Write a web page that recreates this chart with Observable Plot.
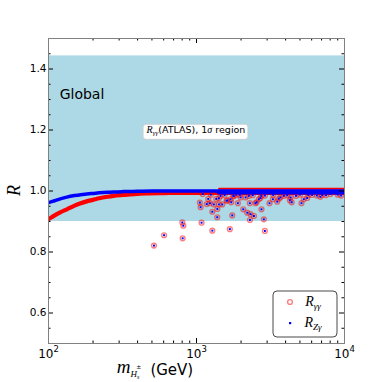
<!DOCTYPE html>
<html><head><meta charset="utf-8">
<script src="https://cdn.jsdelivr.net/npm/d3@7"></script>
<script src="https://cdn.jsdelivr.net/npm/@observablehq/plot@0.6"></script>
<style>
html,body{margin:0;padding:0;background:#fff;}
#chart{width:382px;height:382px;}
svg{display:block;}
</style></head><body><div id="chart"></div>
<script>
// ---------------- data ----------------
const massRedMain = [100,105,110,120,133,150,165,181,200,220,250,275,320,380,460,600,800,1000,1400,2000,4000,10000];
const rGammaMain  = [0.908,0.914,0.920,0.930,0.940,0.952,0.960,0.966,0.971,0.976,0.981,0.984,0.987,0.990,0.992,0.993,0.994,0.994,0.994,0.994,0.994,0.994];
const massBlueMain = [100,105,110,120,133,150,165,181,200,220,250,275,320,400,500,700,1000,2000,5000,10000];
const rZgMain      = [0.962,0.965,0.968,0.974,0.980,0.985,0.988,0.990,0.992,0.994,0.996,0.997,0.998,0.999,1.000,1.000,1.000,1.000,1.000,1.000];
const massRedHigh  = [1420,2000,3000,5000,10000];
const rGammaHigh   = [1.007,1.007,1.007,1.007,1.007];
const massBlueHigh = [1420,2000,3000,5000,10000];
const rZgHigh      = [0.996,0.996,0.996,0.996,0.996];
// scattered parameter points (both ratios nearly equal)
const scatterMass = [516,604,802,815,806,1082,1279,1680,2851,2897,1381,1744,2296,2445,2318,2748,2070,2203,
  1054,1066,1201,1232,1279,1310,1360,1416,1455,1493,1596,1698,1771,1903,1963,2259,1416,1717,1787,2291,2504,2546,
  2637,2705,2737,3113,3280,3510,3600,3690,3890,4270,4320,4400,5120,5310,5600,5700,6040,6870,7060,8040,2145,1985,
  1172,1383,1614,1100,1250,1550,1850,2400,2900,3300,4100,4700,5000,6500,7500,9000,9500];
const scatterR    = [0.821,0.855,0.897,0.886,0.845,0.896,0.870,0.875,0.907,0.869,0.914,0.920,0.905,0.918,0.924,0.940,0.940,0.929,
  0.962,0.947,0.974,0.960,0.932,0.956,0.974,0.976,0.984,0.956,0.968,0.973,0.984,0.960,0.987,0.984,0.956,0.963,0.983,0.960,0.960,0.963,
  0.973,0.977,0.984,0.960,0.973,0.965,0.975,0.979,0.984,0.970,0.979,0.963,0.960,0.973,0.977,0.987,0.987,0.981,0.987,0.990,0.979,0.979,
  0.957,0.941,0.969,0.990,0.988,0.986,0.988,0.986,0.985,0.987,0.986,0.984,0.988,0.985,0.986,0.988,0.985];
const bandX = [100, 10000];
const bandY = [0.9, 1.443];
const xMajor = [100, 1000, 10000];
const xTickLabels = ["10²", "10³", "10⁴"];
const xMinor = [200,300,400,500,600,700,800,900,2000,3000,4000,5000,6000,7000,8000,9000];
const yMajor = [0.6, 0.8, 1.0, 1.2, 1.4];
const yMinor = [0.55,0.65,0.7,0.75,0.85,0.9,0.95,1.05,1.1,1.15,1.25,1.3,1.35,1.45];
const globalLabel = [{x: 119, y: 1.315, text: "Global"}];
const annotation = {x: 1000, y: 1.2};

// ---------------- layout ----------------
const W = 382, H = 382, ML = 48, MR = 38, MT = 38, MB = 39;
const FW = W - ML - MR, FH = H - MT - MB;
const RED = "#ff0000", BLUE = "#0000ff";

const mainRed = massRedMain.map((m, i) => ({m, r: rGammaMain[i]}));
const mainBlue = massBlueMain.map((m, i) => ({m, r: rZgMain[i]}));
const highRed = massRedHigh.map((m, i) => ({m, r: rGammaHigh[i]}));
const highBlue = massBlueHigh.map((m, i) => ({m, r: rZgHigh[i]}));
const scatter = scatterMass.map((m, i) => ({m, r: scatterR[i]}));

const plot = Plot.plot({
  width: W, height: H,
  marginLeft: ML, marginRight: MR, marginTop: MT, marginBottom: MB,
  style: {fontFamily: "DejaVu Sans", background: "white", color: "black", overflow: "visible"},
  x: {type: "log", domain: [100, 10000]},
  y: {domain: [0.5, 1.5]},
  marks: [
    Plot.rect([0], {x1: bandX[0], x2: bandX[1], y1: bandY[0], y2: bandY[1], fill: "#add8e6"}),
    Plot.line(mainRed, {x: "m", y: "r", stroke: RED, strokeWidth: 4.2, curve: "monotone-x", clip: true}),
    Plot.line(highRed, {x: "m", y: "r", stroke: RED, strokeWidth: 2, clip: true}),
    Plot.dot(scatter, {x: "m", y: "r", r: 2.4, fill: "none", stroke: RED, strokeOpacity: 0.5, strokeWidth: 1.4}),
    Plot.line(mainBlue, {x: "m", y: "r", stroke: BLUE, strokeWidth: 3.5, curve: "monotone-x", clip: true}),
    Plot.line(highBlue, {x: "m", y: "r", stroke: BLUE, strokeWidth: 4.6, clip: true}),
    Plot.dot(scatter, {x: "m", y: "r", r: 1.1, symbol: "square", fill: BLUE}),
    Plot.text(globalLabel, {x: "x", y: "y", text: "text", textAnchor: "start", fontSize: 14, fill: "black"}),
    // inward ticks
    Plot.tickY(yMajor, {y: d => d, insetRight: FW - 5, stroke: "black"}),
    Plot.tickY(yMajor, {y: d => d, insetLeft: FW - 5, stroke: "black"}),
    Plot.tickY(yMinor, {y: d => d, insetRight: FW - 2.5, stroke: "black"}),
    Plot.tickY(yMinor, {y: d => d, insetLeft: FW - 2.5, stroke: "black"}),
    Plot.tickX(xMajor, {x: d => d, insetTop: FH - 5, stroke: "black"}),
    Plot.tickX(xMajor, {x: d => d, insetBottom: FH - 5, stroke: "black"}),
    Plot.tickX(xMinor, {x: d => d, insetTop: FH - 2.5, stroke: "black"}),
    Plot.tickX(xMinor, {x: d => d, insetBottom: FH - 2.5, stroke: "black"}),
    Plot.axisY({ticks: yMajor, tickSize: 0, tickPadding: 2, tickFormat: d3.format(".1f"), fontSize: 10.5, label: null}),
    Plot.axisX({ticks: xMajor, tickSize: 0, tickPadding: 6, tickFormat: d => xTickLabels[xMajor.indexOf(d)], fontSize: 12, label: null}),
    Plot.frame({stroke: "#808080"})
  ]
});
document.getElementById("chart").append(plot);

const svg = d3.select(plot);
let sx, sy;
try { sx = plot.scale("x").apply; sy = plot.scale("y").apply; } catch (e) {}
if (typeof sx !== "function") {
  const a = d3.scaleLog([100, 10000], [ML, W - MR]); const b = d3.scaleLinear([0.5, 1.5], [H - MB, MT]);
  sx = a; sy = b;
}

// superscript tick labels
svg.selectAll("text").each(function () {
  const t = this.textContent;
  const m = /^10([²³⁴])$/.exec(t);
  if (m) {
    const sup = {"²": "2", "³": "3", "⁴": "4"}[m[1]];
    const el = d3.select(this);
    el.text(null);
    el.append("tspan").text("10");
    el.append("tspan").attr("dy", -6.5).attr("font-size", 8.5).text(sup);
  }
});

const SERIF = "'Liberation Serif', 'DejaVu Serif', serif";

// annotation box
{
  const g = svg.append("g");
  const t = g.append("text")
    .attr("x", sx(annotation.x)).attr("y", sy(annotation.y) + 3.3)
    .attr("text-anchor", "middle").attr("font-size", 9.5).attr("font-family", "DejaVu Sans").attr("fill", "black");
  t.append("tspan").attr("font-family", SERIF).attr("font-style", "italic").attr("font-size", 10).text("R");
  t.append("tspan").attr("font-family", SERIF).attr("font-style", "italic").attr("font-size", 7).attr("dy", 2).text("γγ");
  t.append("tspan").attr("dy", -2).text("(ATLAS), 1");
  t.append("tspan").attr("font-family", SERIF).attr("font-style", "italic").attr("font-size", 10).text("σ");
  t.append("tspan").text(" region");
  const bb = t.node().getBBox();
  g.insert("rect", "text").attr("x", bb.x - 2.5).attr("y", bb.y + 0.5).attr("width", bb.width + 5).attr("height", bb.height + 2)
    .attr("rx", 3).attr("fill", "white").attr("stroke", "#cccccc").attr("stroke-width", 0.8);
}

// axis labels
{
  svg.append("text").attr("transform", `translate(20,${MT + FH / 2}) rotate(-90)`)
    .attr("text-anchor", "middle").attr("font-family", SERIF).attr("font-style", "italic").attr("font-size", 18).attr("fill", "black").text("R");
  const xl = svg.append("text").attr("x", 155).attr("y", 373).attr("fill", "black").attr("font-family", SERIF).attr("font-style", "italic");
  xl.append("tspan").attr("font-size", 19).text("m");
  xl.append("tspan").attr("font-size", 9).attr("dy", 4).text("H");
  xl.append("tspan").attr("font-size", 6).attr("dy", 2).text("s");
  xl.append("tspan").attr("font-size", 6).attr("dx", -3).attr("dy", -10).attr("font-style", "normal").attr("font-family", "DejaVu Sans").text("±");
  xl.append("tspan").attr("font-size", 15).attr("font-style", "normal").attr("font-family", "DejaVu Sans").attr("dy", 6).attr("dx", 9).text("(GeV)");
}

// legend
{
  const g = svg.append("g");
  g.append("rect").attr("x", 273).attr("y", 291).attr("width", 64).attr("height", 46).attr("rx", 4)
    .attr("fill", "white").attr("stroke", "#333").attr("stroke-width", 0.9);
  g.append("circle").attr("cx", 290).attr("cy", 302).attr("r", 2.4).attr("fill", "none").attr("stroke", RED).attr("stroke-opacity", 0.5).attr("stroke-width", 1.4);
  g.append("rect").attr("x", 289).attr("y", 322).attr("width", 2.2).attr("height", 2.2).attr("fill", BLUE);
  const t1 = g.append("text").attr("x", 313).attr("y", 305.5).attr("font-family", SERIF).attr("font-style", "italic").attr("fill", "black");
  t1.append("tspan").attr("font-size", 14).text("R");
  t1.append("tspan").attr("font-size", 9).attr("dy", 3).text("γγ");
  const t2 = g.append("text").attr("x", 313).attr("y", 326.5).attr("font-family", SERIF).attr("font-style", "italic").attr("fill", "black");
  t2.append("tspan").attr("font-size", 14).text("R");
  t2.append("tspan").attr("font-size", 9).attr("dy", 3).text("Zγ");
}
</script></body></html>
